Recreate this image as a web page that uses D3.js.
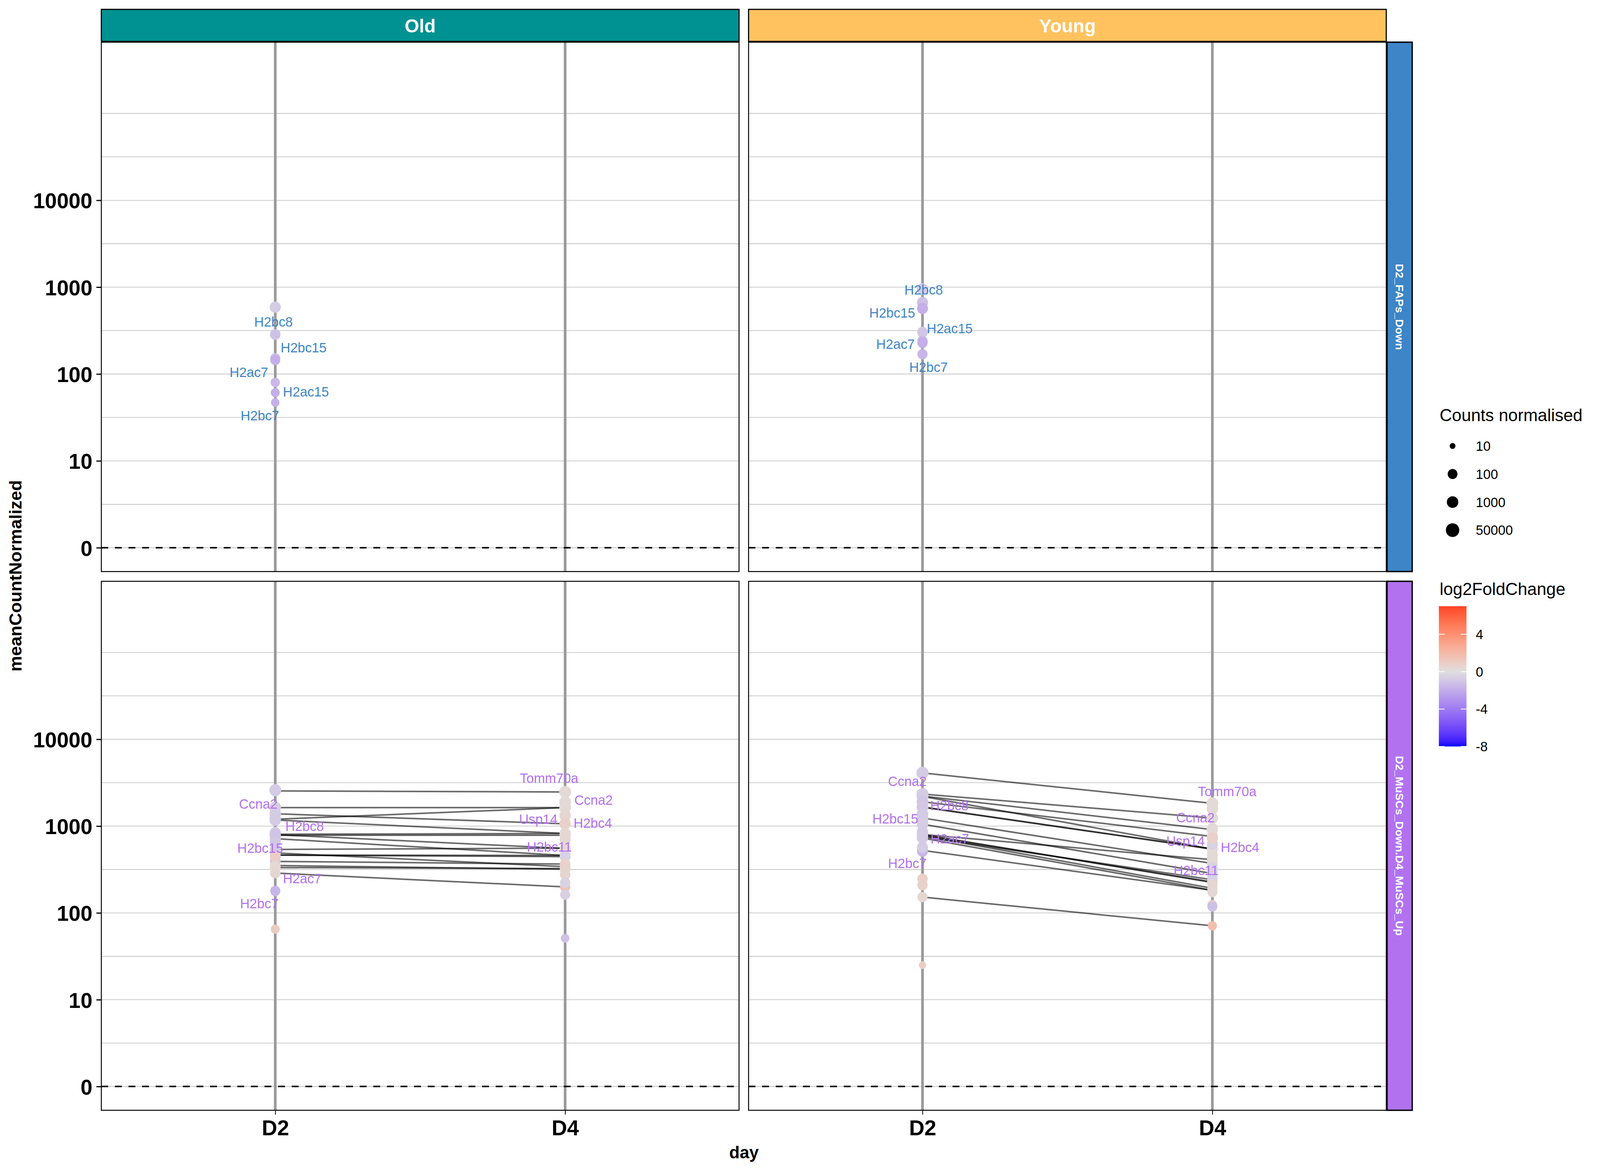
<!DOCTYPE html>
<html>
<head>
<meta charset="utf-8">
<script src="https://cdn.jsdelivr.net/npm/d3@7"></script>
<style>
html,body{margin:0;padding:0;background:#fff;overflow:hidden;}
svg{display:block;width:100vw;height:100vh;}
text{font-family:"Liberation Sans",Arial,sans-serif;}
</style>
</head>
<body>
<svg id="chart" viewBox="0 0 4200 3000" preserveAspectRatio="none"></svg>
<script>
// ---------- data ----------
const days = ["D2", "D4"];
const ages = ["Old", "Young"];
const groups = ["D2_FAPs_Down", "D2_MuSCs_Down.D4_MuSCs_Up"];
const yTickValues = [1, 10, 100, 1000, 10000];
const yTickLabels = ["0", "10", "100", "1000", "10000"];
const gridValues = [1, 3.162, 10, 31.62, 100, 316.2, 1000, 3162, 10000, 31620, 100000];

// Old / FAPs (dots, D2 only)
const oldFapsD2Counts = [589, 285, 152, 145, 80, 61, 47];
const oldFapsD2Lfc = [-0.8, -1.2, -1.2, -1.9, -1.5, -1.9, -1.8];
// Young / FAPs (dots, D2 only)
const youngFapsD2Counts = [948, 666, 569, 303, 240, 229, 169];
const youngFapsD2Lfc = [-0.8, -1.2, -1.9, -1.0, -1.5, -1.9, -1.6];

// Old / MuSCs dots
const oldMuscD2Counts = [1387, 805, 784, 716, 491, 463, 392, 351, 333, 2594, 1632, 1403, 1199, 1175, 838, 796, 648, 538, 403, 445, 344, 288, 179, 65];
const oldMuscD2Lfc = [-0.8, -0.9, -1.0, -0.9, -0.8, -0.8, -0.8, 0.4, 0.4, -0.8, -0.7, -0.7, -0.9, -0.8, -0.8, -1.1, -0.9, -0.9, -0.8, 0.9, 0.4, 0.5, -1.6, 1.0];
const oldMuscD4Counts = [1632, 784, 557, 459, 341, 318, 324, 199, 2473, 1891, 1664, 1323, 1063, 822, 701, 553, 445, 365, 276, 222, 162, 51];
const oldMuscD4Lfc = [0.3, 0.3, 0.3, -0.5, 0.7, 0.6, 0.6, 1.5, 0.3, 0.3, 0.3, 0.4, 0.8, 0.4, 0.4, 0.4, -0.5, 0.7, 0.6, -0.5, -0.6, -1.2];
const oldLinkD2 = [2541, 1632, 1199, 1387, 1175, 805, 784, 796, 716, 538, 463, 463, 491, 392, 351, 333, 288];
const oldLinkD4 = [2473, 1632, 1632, 1063, 822, 822, 784, 553, 459, 557, 459, 445, 341, 365, 318, 324, 199];

// Young / MuSCs dots
const youngMuscD2Counts = [1650, 1239, 1052, 800, 791, 774, 752, 728, 525, 4096, 2338, 2199, 1906, 1664, 1373, 1096, 858, 514, 569, 246, 209, 152, 25];
const youngMuscD2Lfc = [-0.9, -0.8, -0.8, -0.8, -0.8, -0.8, -0.8, -0.8, -1.6, -0.8, -0.8, -0.8, -1.0, -0.9, -0.8, -0.7, -0.8, -1.6, -0.8, 0.8, 0.8, 0.5, 1.0];
const youngMuscD4Counts = [912, 759, 547, 542, 410, 371, 284, 241, 227, 224, 192, 182, 1829, 1585, 1239, 931, 618, 728, 464, 334, 296, 251, 213, 174, 123, 118, 71];
const youngMuscD4Lfc = [0.3, 0.5, 0.3, 0.3, 0.3, 0.3, -0.5, 0.4, 0.4, 0.4, 0.4, 0.4, 0.3, 0.3, 0.3, 0.3, -0.5, 0.8, 0.3, -0.5, -0.5, -0.5, 0.5, 0.4, 1.0, -1.2, 1.8];
const youngLinkD2 = [4096, 2338, 2217, 1906, 2199, 1664, 1650, 1239, 1052, 800, 800, 791, 774, 752, 728, 525, 152];
const youngLinkD4 = [1829, 1239, 912, 759, 542, 542, 547, 371, 284, 410, 224, 227, 192, 241, 182, 182, 71];

// gene labels (name, day) per panel
const fapsLabelNames = ["H2bc8", "H2bc15", "H2ac7", "H2ac15", "H2bc7"];
const muscLabelNames = ["Ccna2", "H2bc8", "H2bc15", "H2ac7", "H2bc7", "Tomm70a", "Ccna2", "Usp14", "H2bc4", "H2bc11"];
const muscLabelDays = ["D2", "D2", "D2", "D2", "D2", "D4", "D4", "D4", "D4", "D4"];

const sizeLegendValues = [10, 100, 1000, 50000];
const colorLegendValues = [4, 0, -4, -8];
const colorLimits = [-8, 7];

// ---------- layout (repelled label placement and styles) ----------
const panelX = {Old: [266, 1940], Young: [1965, 3639]};
const panelY = {[groups[0]]: [108, 1463], [groups[1]]: [1488, 2842]};
const oldFapsNudge = [[-55.2, 566.3], [14.2, 499.7], [-119.8, 437], [20.2, 387], [-90.8, 326.3]];
const youngFapsNudge = [[-47.5, 647.7], [-139.8, 588.7], [-121.5, 509.3], [11.2, 548.7], [-34.8, 450.3]];
const oldMuscNudge = [[-95.2, 711], [26.5, 654], [-99.5, 598.5], [20, 520], [-92.5, 455.7], [-119, 776.7], [24, 721], [-121, 672], [22, 661.7], [-100.4, 600.7]];
const youngMuscNudge = [[-90.5, 769], [20.1, 706.9], [-131.7, 672.9], [21, 621.7], [-90.5, 558.7], [-38, 743.3], [-95, 676.1], [-121, 616], [22, 599.7], [-102, 540.7]];
const ageFill = {Old: "#009292", Young: "#FFC25F"};
const groupFill = {[groups[0]]: "#3D85C6", [groups[1]]: "#B272F0"};

// ---------- scales ----------
const svg = d3.select("#chart");
const color = d3.scaleLinear().domain([-8, 0, 8]).range(["#0000FF", "#DFDFDF", "#FF0000"]).interpolate(d3.interpolateLab);
const radius = d3.scaleLog().domain(sizeLegendValues).range([7.6, 12.8, 15, 17.6]);

function makeX(age){ return d3.scalePoint().domain(days).range(panelX[age]).padding(0.6); }
function makeY(group){
  const [top, bottom] = panelY[group];
  return d3.scaleLog().domain([Math.pow(10, -0.274), Math.pow(10, 5.82)]).range([bottom, top]);
}

const panels = [
  {age: "Old", group: groups[0],
   dots: {D2: [oldFapsD2Counts, oldFapsD2Lfc]}, links: null,
   names: fapsLabelNames, labelDays: fapsLabelNames.map(() => "D2"), nudge: oldFapsNudge},
  {age: "Young", group: groups[0],
   dots: {D2: [youngFapsD2Counts, youngFapsD2Lfc]}, links: null,
   names: fapsLabelNames, labelDays: fapsLabelNames.map(() => "D2"), nudge: youngFapsNudge},
  {age: "Old", group: groups[1],
   dots: {D2: [oldMuscD2Counts, oldMuscD2Lfc], D4: [oldMuscD4Counts, oldMuscD4Lfc]}, links: [oldLinkD2, oldLinkD4],
   names: muscLabelNames, labelDays: muscLabelDays, nudge: oldMuscNudge},
  {age: "Young", group: groups[1],
   dots: {D2: [youngMuscD2Counts, youngMuscD2Lfc], D4: [youngMuscD4Counts, youngMuscD4Lfc]}, links: [youngLinkD2, youngLinkD4],
   names: muscLabelNames, labelDays: muscLabelDays, nudge: youngMuscNudge}
];

// ---------- panels ----------
panels.forEach(p => {
  const x = makeX(p.age), y = makeY(p.group);
  const [x0, x1] = panelX[p.age], [y0, y1] = panelY[p.group];
  const g = svg.append("g");
  g.append("rect").attr("x", x0).attr("y", y0).attr("width", x1 - x0).attr("height", y1 - y0).attr("fill", "#fff");

  g.selectAll(".grid").data(gridValues).join("line")
    .attr("x1", x0).attr("x2", x1).attr("y1", d => y(d)).attr("y2", d => y(d))
    .attr("stroke", "#BDBDBD").attr("stroke-width", 1.6);

  g.selectAll(".vl").data(days).join("line")
    .attr("x1", d => x(d)).attr("x2", d => x(d)).attr("y1", y0).attr("y2", y1)
    .attr("stroke", "#9A9A9A").attr("stroke-width", 7);

  g.append("line").attr("x1", x0).attr("x2", x1).attr("y1", y(1)).attr("y2", y(1))
    .attr("stroke", "#000").attr("stroke-width", 4).attr("stroke-dasharray", "17.9,17.8");

  if (p.links) {
    const line = d3.line().x(d => x(d[0])).y(d => y(d[1]));
    p.links[0].forEach((v, i) => {
      g.append("path").attr("d", line([["D2", v], ["D4", p.links[1][i]]]))
        .attr("fill", "none").attr("stroke", "#000").attr("stroke-opacity", 0.58).attr("stroke-width", 4);
    });
  }

  Object.keys(p.dots).forEach(day => {
    const [counts, lfc] = p.dots[day];
    g.selectAll(".dot" + day).data(counts.map((c, i) => ({c, l: lfc[i]}))).join("circle")
      .attr("class", "dot" + day)
      .attr("cx", x(day)).attr("cy", d => y(d.c)).attr("r", d => radius(d.c))
      .attr("fill", d => color(d.l));
  });

  g.append("rect").attr("x", x0).attr("y", y0).attr("width", x1 - x0).attr("height", y1 - y0)
    .attr("fill", "none").attr("stroke", "#000").attr("stroke-width", 2.5);

  g.selectAll(".lab").data(p.names.map((n, i) => ({n, day: p.labelDays[i], nudge: p.nudge[i]}))).join("text")
    .attr("x", d => x(d.day) + d.nudge[0]).attr("y", d => y(1) - d.nudge[1])
    .attr("font-size", 35).attr("fill", groupFill[p.group]).text(d => d.n);

  // axes
  if (p.age === "Old") {
    const ax = svg.append("g").attr("transform", `translate(${x0},0)`)
      .call(d3.axisLeft(y).tickValues(yTickValues).tickFormat((d, i) => yTickLabels[i]).tickSize(13).tickPadding(10.5));
    ax.select(".domain").remove();
    ax.selectAll(".tick line").attr("stroke", "#000").attr("stroke-width", 3);
    ax.selectAll("text").attr("font-size", 56).attr("font-weight", "bold").attr("fill", "#000")
      .attr("font-family", '"Liberation Sans"').attr("dy", "0.36em");
  }
  if (p.group === groups[1]) {
    const ax = svg.append("g").attr("transform", `translate(0,${y1})`)
      .call(d3.axisBottom(x).tickSize(11).tickPadding(13.7));
    ax.select(".domain").remove();
    ax.selectAll(".tick line").attr("stroke", "#000").attr("stroke-width", 2);
    ax.selectAll("text").attr("font-size", 56).attr("font-weight", "bold").attr("fill", "#000")
      .attr("font-family", '"Liberation Sans"');
  }
});

// ---------- strips ----------
ages.forEach(a => {
  const [x0, x1] = panelX[a];
  svg.append("rect").attr("x", x0).attr("y", 24).attr("width", x1 - x0).attr("height", 82)
    .attr("fill", ageFill[a]).attr("stroke", "#000").attr("stroke-width", 3);
  svg.append("text").attr("x", (x0 + x1) / 2).attr("y", 82.7).attr("text-anchor", "middle")
    .attr("font-size", 49).attr("font-weight", "bold").attr("fill", "#fff").text(a);
});
groups.forEach(gr => {
  const [y0, y1] = panelY[gr];
  svg.append("rect").attr("x", 3641).attr("y", y0).attr("width", 66).attr("height", y1 - y0)
    .attr("fill", groupFill[gr]).attr("stroke", "#000").attr("stroke-width", 3.5);
  svg.append("text").attr("transform", `translate(3663.5,${(y0 + y1) / 2}) rotate(90)`)
    .attr("text-anchor", "middle").attr("font-size", 29).attr("font-weight", "bold").attr("fill", "#fff").text(gr);
});

// ---------- axis titles ----------
svg.append("text").attr("x", 1953).attr("y", 2965).attr("text-anchor", "middle")
  .attr("font-size", 45).attr("font-weight", "bold").text("day");
svg.append("text").attr("transform", "translate(56,1474) rotate(-90)").attr("text-anchor", "middle")
  .attr("font-size", 45).attr("font-weight", "bold").text("meanCountNormalized");

// ---------- size legend ----------
svg.append("text").attr("x", 3779).attr("y", 1078).attr("font-size", 45).text("Counts normalised");
const sizeY = d3.scalePoint().domain(sizeLegendValues).range([1141.6, 1357]);
svg.selectAll(".szd").data(sizeLegendValues).join("circle")
  .attr("cx", 3813).attr("cy", d => sizeY(d)).attr("r", d => radius(d)).attr("fill", "#000");
svg.selectAll(".szt").data(sizeLegendValues).join("text")
  .attr("x", 3874).attr("y", d => sizeY(d) + 12.5).attr("font-size", 35).text(d => d);

// ---------- colour legend ----------
svg.append("text").attr("x", 3779).attr("y", 1523).attr("font-size", 45).text("log2FoldChange");
const barY = d3.scaleLinear().domain(colorLimits).range([1910.7, 1551.7]);
const defs = svg.append("defs");
const grad = defs.append("linearGradient").attr("id", "lfcGrad").attr("x1", 0).attr("x2", 0).attr("y1", 1).attr("y2", 0);
d3.range(0, 1.0001, 0.02).forEach(t => {
  grad.append("stop").attr("offset", t).attr("stop-color", color(colorLimits[0] + t * (colorLimits[1] - colorLimits[0])));
});
svg.append("rect").attr("x", 3777).attr("y", barY(colorLimits[1])).attr("width", 72.5)
  .attr("height", barY(colorLimits[0]) - barY(colorLimits[1])).attr("fill", "url(#lfcGrad)");
colorLegendValues.forEach(v => {
  [[3777, 3792], [3834.5, 3849.5]].forEach(([a, b]) => {
    svg.append("line").attr("x1", a).attr("x2", b).attr("y1", barY(v)).attr("y2", barY(v))
      .attr("stroke", "#fff").attr("stroke-width", 2);
  });
  svg.append("text").attr("x", 3874).attr("y", barY(v) + 12.5).attr("font-size", 35).text(v);
});
</script>
</body>
</html>
